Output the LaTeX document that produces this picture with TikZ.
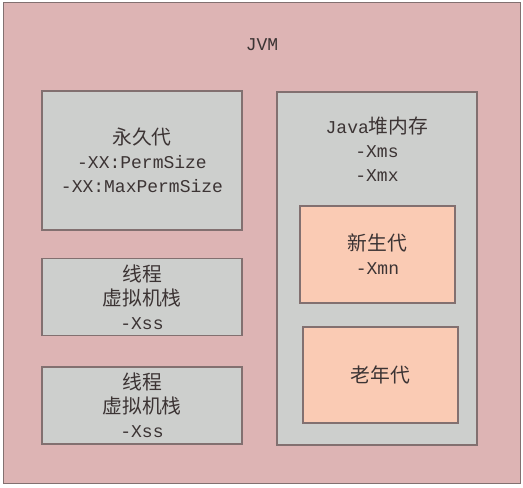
\documentclass[tikz,border=0pt]{standalone}
\usepackage{fontspec}
\setmainfont{Liberation Mono}
\newfontfamily\cjk[Scale=1.1]{Noto Sans CJK SC}
\usetikzlibrary{positioning}
\definecolor{jvmpink}{RGB}{221,180,180}
\definecolor{areagray}{RGB}{205,207,205}
\definecolor{genpeach}{RGB}{250,203,180}
\definecolor{edgegray}{RGB}{130,112,112}
\definecolor{txtgray}{RGB}{60,52,52}
\begin{document}
\begin{tikzpicture}[x=1pt,y=-1pt,
  area/.style={draw=edgegray, line width=1.2pt, fill=areagray, inner sep=0pt},
  gen/.style={area, fill=genpeach},
  lbl/.style={text=txtgray, align=center, font=\fontsize{18}{24}\selectfont}]
  \useasboundingbox (0,0) rectangle (523,488);
  \fill[white] (0,0) rectangle (523,488);
  % JVM frame
  \node[area, fill=jvmpink, anchor=north west, minimum width=517pt, minimum height=481pt] (jvm) at (3,2) {};
  \node[lbl] (jvmlbl) at (262,45) {JVM};

  % left column
  \node[area, minimum width=200pt, minimum height=139pt] (perm) at (142,160.5) {};
  \node[lbl] (permlbl) at (perm) {{\cjk 永久代}\\-XX:PermSize\\-XX:MaxPermSize};
  \node[area, minimum width=200pt, minimum height=77pt] (stacka) at (142,297) {};
  \node[lbl] (stackalbl) at (stacka) {{\cjk 线程}\\{\cjk 虚拟机栈}\\-Xss};
  \node[area, minimum width=200pt, minimum height=77pt] (stackb) at (142,405.5) {};
  \node[lbl] (stackblbl) at (stackb) {{\cjk 线程}\\{\cjk 虚拟机栈}\\-Xss};

  % heap
  \node[area, minimum width=200pt, minimum height=353pt] (heap) at (377,268.5) {};
  \node[lbl, below=22pt of heap.north] (heaplbl) {Java{\cjk 堆内存}\\-Xms\\-Xmx};
  \node[gen, minimum width=155pt, minimum height=97pt] (young) at (377.5,254.5) {};
  \node[lbl] (younglbl) at (young) {{\cjk 新生代}\\-Xmn};
  \node[gen, minimum width=155pt, minimum height=96pt] (old) at (380.5,375) {};
  \node[lbl] (oldlbl) at (old) {\cjk 老年代};
\end{tikzpicture}
\end{document}
